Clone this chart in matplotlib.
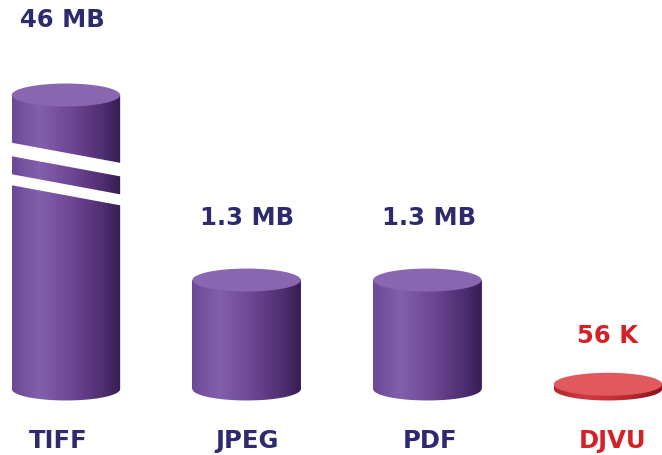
import numpy as np
import matplotlib
matplotlib.use("Agg")
import matplotlib.pyplot as plt
from matplotlib.patches import Ellipse, Polygon
from matplotlib.colors import LinearSegmentedColormap

# ---- data ----
categories = ["TIFF", "JPEG", "PDF", "DJVU"]
sizes_mb = [46, 1.3, 1.3, 0.056]
value_labels = ["46 MB", "1.3 MB", "1.3 MB", "56 K"]
is_highlight = [False, False, False, True]

# ---- layout ----
W, H = 662, 455
fig = plt.figure(figsize=(W / 100, H / 100), dpi=100)
fig.patch.set_facecolor("white")
ax = fig.add_axes([0, 0, 1, 1])
ax.set_facecolor("none")

# broken (compressed) value scale above BREAK
BREAK = 2.55
K = 0.02205


def fwd(y):
    y = np.asarray(y, dtype=float)
    return np.where(y <= BREAK, y, BREAK + (y - BREAK) * K)


def inv(y):
    y = np.asarray(y, dtype=float)
    return np.where(y <= BREAK, y, BREAK + (y - BREAK) / K)


ax.set_yscale("function", functions=(fwd, inv))
ax.set_xlim(-0.365, 3.299)
ax.set_ylim(-0.788, float(inv(4.642)))
ax.axis("off")

bar_w = 0.6
purple = "#6c4596"
red = "#d8323a"
bars = ax.bar(range(len(categories)), sizes_mb, width=bar_w,
              color=[red if h else purple for h in is_highlight], zorder=1)

# overlay axes in pixel coordinates for the 3D cylinder decoration
pix = fig.add_axes([0, 0, 1, 1], zorder=2)
pix.set_xlim(0, W)
pix.set_ylim(0, H)
pix.axis("off")
pix.set_facecolor("none")

cmap_purple = LinearSegmentedColormap.from_list(
    "p", [(0, "#6d4896"), (0.25, "#8360ab"), (0.55, "#6e4694"),
          (0.85, "#4d2d6f"), (1.0, "#361c50")])
cmap_red = LinearSegmentedColormap.from_list(
    "r", [(0, "#b8262e"), (0.3, "#cf3a42"), (0.7, "#b52930"), (1.0, "#7e1418")])
grad = np.linspace(0, 1, 256).reshape(1, -1)

RY = 11.5  # ellipse half-height in pixels


def to_px(x, y):
    return ax.transData.transform((x, y))


for i, v in enumerate(sizes_mb):
    xl, yb = to_px(i - bar_w / 2, 0)
    xr, yt = to_px(i + bar_w / 2, v)
    xc = (xl + xr) / 2
    rx = (xr - xl) / 2
    t = np.linspace(np.pi, 2 * np.pi, 60)
    bottom = np.column_stack([xc + rx * np.cos(t), yb + RY * np.sin(t)])
    verts = np.vstack([[[xl, yt]], bottom, [[xr, yt]]])
    body = Polygon(verts, closed=True, fc="none", ec="none")
    pix.add_patch(body)
    cm = cmap_red if is_highlight[i] else cmap_purple
    im = pix.imshow(grad, cmap=cm, extent=(xl, xr, yb - RY - 1, yt + 1),
                    aspect="auto", interpolation="bilinear", zorder=3)
    im.set_clip_path(body)
    top_col = "#e2585f" if is_highlight[i] else "#8a66b1"
    pix.add_patch(Ellipse((xc, yt), 2 * rx, 2 * RY, fc=top_col, ec="none",
                          zorder=4))

    # break marks on the compressed bar
    if v > BREAK:
        _, yB = to_px(i, BREAK)
        slope = -20.0 / 108.0

        def c(x):
            return yB + slope * (x - xc)

        for a, b in [(9, 22.5), (-20, -9)]:
            x0, x1 = xl - 4, xr + 4
            pix.add_patch(Polygon([(x0, c(x0) + a), (x1, c(x1) + a),
                                   (x1, c(x1) + b), (x0, c(x0) + b)],
                                  closed=True, fc="white", ec="none", zorder=5))

# ---- text ----
navy = "#2d2a6e"
label_red = "#d42128"
value_offsets = [(-4, 75), (0, 62), (2, 62), (0, 48)]
cat_offsets = [(-8, -52), (0, -52), (3, -52), (5, -52)]
for i, (v, lab) in enumerate(zip(sizes_mb, value_labels)):
    col = label_red if is_highlight[i] else navy
    ax.annotate(lab, xy=(i, v), xytext=value_offsets[i],
                textcoords="offset pixels", ha="center", va="center",
                fontsize=17.5, fontweight="bold", color=col, zorder=6)
    ax.annotate(categories[i], xy=(i, 0), xytext=cat_offsets[i],
                textcoords="offset pixels", ha="center", va="center",
                fontsize=17.5, fontweight="bold", color=col, zorder=6)

fig.savefig("out.png", dpi=100, facecolor="white")
